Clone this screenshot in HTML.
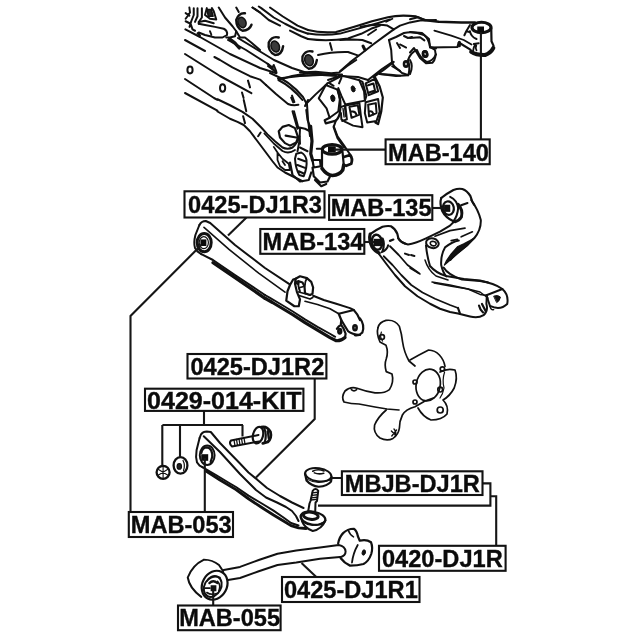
<!DOCTYPE html>
<html><head><meta charset="utf-8">
<style>
html,body{margin:0;padding:0;background:#fff;}
body{width:640px;height:640px;overflow:hidden;position:relative;font-family:"Liberation Sans",sans-serif;}
svg{position:absolute;left:0;top:0;filter:blur(0.45px);}
text{font-family:"Liberation Sans",sans-serif;font-weight:bold;font-size:23.6px;fill:#0a0a0a;stroke:#0a0a0a;stroke-width:0.35px;}
</style></head><body>
<svg width="640" height="640" viewBox="0 0 640 640">
<g id="art" fill="none" stroke="#111" stroke-width="2" stroke-linecap="round" stroke-linejoin="round">
<style>.ns *{vector-effect:non-scaling-stroke}</style>
<!-- ===== Arm 0425-DJ1R2 (real coords) ===== -->
<g>
<path d="M199.6,438 L201,434.4 Q203.2,431.6 206.8,431.6 L210.8,432 L220,443 L230,453.2 L240,463.5 L248.5,472.5 L257,479.4 L267,488 L280,496 L292,502.5 L303.5,508"/>
<path d="M199.6,438 L196.6,450 Q195.4,457 197,462.4 L199.6,465.6 L202.4,467.2"/>
<path d="M202.4,467.2 L216,475 L230,483.5 L236,487 L248.5,495.6 L261,503 L273.5,510.6 L283.5,517.5 L291,523 L298.5,525.5"/>
<path d="M203.75,436.25 L220,452 L230,463 L240,474 L246,480 L256,490 L266,497.5 L277,502.5 L286,507 L292,511 L296,516 L298.5,521"/>
<path d="M206.4,471.2 L220,480 L236,489.6 L248.5,498.75 L261,507 L273.5,515 L283.5,521 L291,525.6 L298.5,527.8 L306,528.5" stroke-width="2.8"/>
<ellipse cx="207.2" cy="455.2" rx="7.4" ry="9.8"/>
<path d="M201.4,453 Q202,447.6 207,447.4 Q212.6,448.4 212.2,457 L210.6,462" stroke-width="2.2"/>
<rect x="201.2" y="454.2" width="7" height="6.6" fill="#0a0a0a" stroke="none"/>
</g>
<!-- ===== ball joint + boot (tile 8x, origin 280,456) ===== -->
<g transform="translate(280,456) scale(0.125)" class="ns">
<ellipse cx="306" cy="150" rx="106" ry="52" transform="rotate(8 306 150)" stroke-width="2"/>
<path d="M200,140 L212,196 Q250,240 310,246 Q380,240 408,205 L414,168" stroke-width="2.2"/>
<path d="M215,185 Q300,235 405,190" stroke-width="1.1"/>
<path d="M262,122 Q300,100 352,120 M275,135 Q310,150 350,138" stroke-width="1.6"/>
<!-- stud -->
<path d="M262,278 Q284,250 306,278 L296,360 L284,372 L282,440 M262,278 L244,360 L236,380 L226,440" stroke-width="2"/>
<path d="M258,295 L303,290 M254,315 L300,310 M250,335 L298,330 M247,352 L296,347" stroke-width="1.3"/>
<!-- housing -->
<ellipse cx="246" cy="478" rx="60" ry="28" transform="rotate(8 246 478)" stroke-width="3"/>
<ellipse cx="264" cy="497" rx="100" ry="52" transform="rotate(10 264 497)" stroke-width="2.2"/>
<path d="M166,478 L176,522 Q200,580 262,600 Q335,585 364,515"/>
<path d="M185,530 Q260,580 350,528" stroke-width="1.2"/>
</g>
<!-- ===== bolt (tile 10x origin 220,420) ===== -->
<g transform="translate(220,420) scale(0.1)" class="ns">
<path d="M110,205 L385,150 M120,265 L392,214 M110,205 Q85,235 120,265" stroke-width="2"/>
<path d="M140,200 L150,258 M165,195 L175,253 M190,190 L200,248 M215,185 L225,243 M240,180 L250,238" stroke-width="1.3"/>
<ellipse cx="380" cy="152" rx="50" ry="84" transform="rotate(14 380 152)" stroke-width="2.2"/>
<path d="M412,72 Q470,58 505,120 Q520,178 478,220 L428,234" stroke-width="2.8"/>
<path d="M442,82 Q472,150 446,226 M478,112 L487,182" stroke-width="2.2"/>
</g>
<!-- ===== nut & washer (real) ===== -->
<g>
<circle cx="163.1" cy="472.3" r="6.5" stroke-width="2.3"/>
<path d="M158.5,469.5 L167.5,475 M163.1,466.5 L163.1,478 M158.5,475 L167.5,469.5" stroke-width="1.1"/>
<ellipse cx="180.5" cy="465.4" rx="6.9" ry="8.3" stroke-width="2.3"/>
<ellipse cx="179.3" cy="466.4" rx="2.2" ry="2.8" fill="#222" stroke-width="1.2"/>
<path d="M183,460.5 Q185.5,465 183.5,470.5" stroke-width="1.2"/>
</g>
<!-- ===== lower link rod (real coords) ===== -->
<g>
<path d="M223.75,570 L240,566.9 L258.75,560 L277.5,553.75 L296.25,550.6 L320,547.5 L338.75,545 Q345,546 345.6,551.5 Q345.6,556 340,557.3"/>
<path d="M228,580 L240,578 L258.75,571.25 L277.5,565 L296.25,562.5 L320,558.75 L340,557"/>
</g>
<!-- left bushing (tile 8x origin 180,540) -->
<g transform="translate(180,540) scale(0.125)" class="ns">
<path d="M345,250 L312,200 Q260,158 192,157 Q100,200 62,300 Q75,385 170,455" stroke-width="2"/>
<ellipse cx="277" cy="362" rx="98" ry="120" transform="rotate(28 277 362)" stroke-width="2.2"/>
<ellipse cx="262" cy="372" rx="66" ry="88" transform="rotate(28 262 372)" stroke-width="2"/>
<path d="M215,330 Q260,280 320,300 M200,385 L240,385 M215,420 Q250,445 300,425 M300,330 Q330,360 310,410" stroke-width="1.6"/>
<path d="M235,345 Q265,315 300,345" stroke-width="2.2"/>
<rect x="245" y="362" width="46" height="48" fill="#111" stroke="none"/>
</g>
<!-- right end fitting (tile 8x origin 310,510) -->
<g transform="translate(310,510) scale(0.125)" class="ns">
<path d="M225,268 Q235,215 265,185 Q300,150 350,150 Q375,165 383,210 L398,246 Q450,232 488,258 Q505,300 490,352 Q470,410 428,432 Q380,445 320,445 Q275,425 246,386" stroke-width="2.2"/>
<path d="M305,160 Q320,200 348,215" stroke-width="1.6"/>
<path d="M382,280 Q345,345 336,420" stroke-width="1.8"/>
<ellipse cx="430" cy="340" rx="13" ry="22" transform="rotate(15 430 340)" fill="#111" stroke-width="1"/>
</g>
<!-- ===== knuckle (tile 5x origin 335,312) ===== -->
<g transform="translate(335,312) scale(0.2)" class="ns" stroke-width="1.7">
<path d="M215,78 Q222,50 255,42 Q300,36 322,72 Q334,110 338,150 Q345,200 370,245 L400,270"/>
<path d="M375,240 L420,215 L468,190 Q500,192 522,215 Q545,240 550,272"/>
<path d="M215,78 Q206,110 225,150 L255,166 Q268,200 256,235 Q246,262 256,298 L285,310 Q296,350 272,388 Q245,408 200,404 Q150,396 110,381 Q75,372 50,395 Q30,425 45,450 Q80,460 120,460 L200,475 L260,485 L320,490"/>
<path d="M256,490 Q215,525 198,565 Q190,605 225,630 Q260,648 290,632 Q318,612 322,580 Q322,545 337,515 Q352,488 400,474 L450,445 L492,430"/>
<ellipse cx="466" cy="365" rx="60" ry="80" transform="rotate(12 466 365)"/>
<path d="M525,300 Q560,280 600,290 Q615,330 596,380 Q575,420 540,440 Q570,470 560,510 Q535,540 480,540 Q440,525 415,480"/>
<path d="M548,300 Q535,340 545,380 Q540,410 525,430" stroke-width="1.2"/>
<circle cx="235" cy="125" r="12"/><path d="M232,100 Q222,125 238,145" stroke-width="1.2"/>
<path d="M82,388 Q95,400 108,388" />
<circle cx="400" cy="350" r="10"/>
<circle cx="537" cy="285" r="11"/>
<circle cx="526" cy="388" r="12"/>
<circle cx="400" cy="450" r="10"/>
<circle cx="526" cy="490" r="15"/>
<path d="M282,595 L305,618 M284,620 L308,590 M295,585 Q310,600 300,622" stroke-width="1.4"/>
</g>
<!-- ===== upper arm (tile A 5x origin 360,180) ===== -->
<g transform="translate(360,180) scale(0.2)" class="ns">
<!-- right bushing MAB-135 -->
<path d="M556,100 Q592,150 604,200 Q606,250 572,290 Q540,325 495,358 Q462,385 452,400"/>
<!-- left bushing MAB-134 -->
<path d="M190,290 Q205,315 240,322 Q275,318 330,292 L400,258 L450,228 L472,206"/>
<!-- left branch lower edges -->
<path d="M225,368 L245,375 M255,375 L272,380" stroke-width="2"/>
<!-- center hole -->
<ellipse cx="362" cy="316" rx="32" ry="24" transform="rotate(15 362 316)" stroke-width="2"/>
<ellipse cx="366" cy="318" rx="15" ry="11" transform="rotate(15 366 318)" stroke-width="1.6"/>
<path d="M330,328 Q335,380 350,430 Q380,465 430,480 L520,495 L600,503 L640,512"/>
<path d="M370,515 L450,530 L540,545 L600,560 L640,590" stroke-width="1.5"/>
<!-- right branch inner -->
<path d="M494,303 Q462,309 425,337 Q403,375 406,425 Q415,465 432,482"/>
<path d="M375,281 L450,253 L525,241 M456,303 L487,297 M506,284 L562,259" stroke-width="1.7"/>
<path d="M569,291 L537,328 L487,369 L444,406 L422,425 L431,406 L456,369 L487,334 L519,319 L550,303 Z" fill="#111" stroke-width="1.2"/>
</g>
<!-- tile B 5x origin 410,220 -->
<g transform="translate(410,220) scale(0.2)" class="ns">
<path d="M168,238 Q190,275 260,298 L350,305 Q420,315 462,345 L382,376"/>
<path d="M462,345 Q495,375 486,420 Q460,445 425,438 L400,430 L382,376"/>
<path d="M420,380 Q440,372 452,385 Q450,405 435,412 Z" fill="#111" stroke-width="1"/>
<path d="M400,432 Q405,452 418,448" stroke-width="1.5"/>
<path d="M240,440 L250,468 M345,428 Q350,450 365,462 M360,420 L378,455" stroke-width="2.2"/>
<path d="M110,310 L200,325 L290,345 L350,372 L384,378" stroke-width="1.5"/>
<path d="M75,200 Q90,250 130,280 L190,300" stroke-width="1.5"/>
<path d="M0,240 L50,270" stroke-width="1.5"/>
</g>
<!-- left branch lower edges, real coords -->
<g>
<path d="M378.75,253.75 L386.25,263.75 L395,275 L405,286.25 L417.5,296.25 L430,303.75 L440,308.75 L450,312 L458,313.5 L470,316.5 Q478,318.6 483.6,315.2 Q488.4,311 486.4,304 L486.8,296" stroke-width="2"/>
<path d="M383.75,256.25 L392.5,265 L401.25,275 L411.25,285 L422.5,292.5 L435,298.75 L450,305 L458,308" stroke-width="1.8"/>
<path d="M390,246.25 L398.75,255 L407.5,265 L418.75,273" stroke-width="1.8"/>
</g>
<!-- MAB-135 bushing detail (tile 10.667x origin 430,180) -->
<g transform="translate(430,180) scale(0.09375)" class="ns">
<path d="M120,192 Q170,148 250,106 Q300,88 345,96 Q395,112 430,170 L452,232 L470,262" stroke-width="2.2"/>
<path d="M120,192 Q100,250 130,330 Q165,400 250,440" stroke-width="2.2"/>
<ellipse cx="196" cy="300" rx="58" ry="72" transform="rotate(-12 196 300)" stroke-width="2.2"/>
<path d="M215,180 Q290,215 300,300 Q295,380 250,440" stroke-width="2"/>
<path d="M300,260 Q355,320 335,395 Q310,435 268,445" stroke-width="3"/>
<path d="M332,270 L400,246" stroke-width="2"/>
<rect x="150" y="264" width="66" height="76" fill="#111" stroke="none"/>
</g>
<!-- MAB-134 bushing detail (tile 10.667x origin 360,215) -->
<g transform="translate(360,215) scale(0.09375)" class="ns">
<path d="M108,204 Q160,165 240,126 Q290,112 330,120 Q375,145 398,200 L410,250 Q430,285 480,305" stroke-width="2.2"/>
<path d="M108,204 Q92,260 128,340 Q160,390 205,405" stroke-width="3.2"/>
<ellipse cx="182" cy="290" rx="55" ry="80" transform="rotate(-10 182 290)" stroke-width="2.4"/>
<path d="M242,250 Q270,310 240,382" stroke-width="2"/>
<path d="M320,276 L356,262" stroke-width="2.2"/>
<path d="M300,322 Q290,370 232,396" stroke-width="2"/>
<rect x="145" y="254" width="80" height="78" fill="#111" stroke="none"/>
</g>
<!-- ===== lateral arm 0425-DJ1R3 (tile 5x origin 185,215) ===== -->
<g transform="translate(185,215) scale(0.2)" class="ns">
<path d="M72,50 Q82,30 104,30 L126,40 L250,150 L400,265 L522,346"/>
<path d="M72,50 L52,100 Q42,140 50,165 L62,182 L82,196"/>
<path d="M95,62 L220,172 L370,292 L500,386" stroke-width="1.6"/>
<path d="M82,196 L140,225 L250,300 L400,400"/>
<path d="M140,238 L250,313 L400,417" stroke-width="3.2"/>
<ellipse cx="96" cy="138" rx="35" ry="46" stroke-width="3"/>
<ellipse cx="94" cy="138" rx="23" ry="30" stroke-width="1.2"/>
<rect x="77" y="122" width="30" height="33" fill="#0a0a0a" stroke="none"/>
</g>
<!-- tile 8x origin 280,270 -->
<g transform="translate(280,270) scale(0.125)" class="ns">
<path d="M265,206 L350,240 L450,270 L560,305 L590,320" stroke-width="2"/>
<path d="M200,250 L300,276 L400,310 L470,350" stroke-width="1.7"/>
<path d="M150,176 L240,200 M146,202 L240,232 L262,220" stroke-width="1.8"/>
<!-- lower edges -->
<path d="M-120,200 L-80,223 L0,270 L100,330 L200,395 L300,455 L400,510 L442,535" stroke-width="1.8"/>
<path d="M-120,226 L-60,260 L0,296 L100,356 L200,421 L300,481 L400,541 L450,566 Q490,568 520,540" stroke-width="3.2"/>
<!-- bracket -->
<path d="M125,70 L160,50 L215,65 L250,95 L265,140 L260,190 L240,200 L200,186 L196,130 L180,100 L150,90" fill="#fff" stroke-width="2.2"/>
<path d="M80,120 L105,76 L125,70 L120,110 L135,175 L160,235 L150,290 L115,290 L50,245 L60,170 Z" fill="#fff" stroke-width="2.2"/>
<ellipse cx="140" cy="100" rx="9" ry="13" fill="#222" stroke-width="1.5"/>
<path d="M150,90 Q140,130 160,170 M196,130 L160,140 M215,66 Q200,90 200,120" stroke-width="1.8"/>
<!-- fork -->
<path d="M470,350 L590,320 Q620,350 640,400 M470,350 L490,400 L520,450 L545,490 Q575,515 640,520" stroke-width="2.2"/>
<ellipse cx="600" cy="462" rx="13" ry="19" stroke-width="2.6"/>
<path d="M455,470 Q468,448 490,440 Q512,465 525,510 L520,540 M490,400 L486,440" stroke-width="2.2"/>
<ellipse cx="478" cy="490" rx="11" ry="17" stroke-width="2.6"/>
</g>
<!-- fork right part (tile 5x origin 270,260) -->
<g transform="translate(270,260) scale(0.2)" class="ns">
<path d="M450,292 Q475,325 462,362 Q445,380 424,376" stroke-width="2.2"/>
</g>
<!-- ===== subframe T1 (tile 5x origin 180,0) ===== -->
<g transform="translate(180,0) scale(0.2)" class="ns">
<!-- top-left cluster -->
<!-- long diagonals -->
<path d="M25,200 L125,255"/>
<path d="M25,270 L200,380 L357,466"/>
<path d="M172,285 L200,300 L262,337 L312,362 L350,381 L400,398 L430,425 M340,403 L350,437"/>
<path d="M27,147 L100,185 L250,270 L400,340 L482,366"/>
<path d="M240,200 L330,250 L440,320 L482,362 L440,330" />
<path d="M290,190 L380,245 L470,300 L560,340 L640,366"/>
<path d="M25,395 L170,490 L187,499"/>
<path d="M25,465 L187,553"/>
<path d="M310,462 L318,490" stroke-width="2"/>
<ellipse cx="50" cy="350" rx="13" ry="17" stroke-width="2"/>
<ellipse cx="213" cy="440" rx="13" ry="19" stroke-width="2"/>
<!-- bolts -->
<g stroke-width="2">
</g>
<!-- top right lines -->
<!-- right middle -->
<path d="M492,400 L560,380 L640,366 M430,425 L480,470 L540,520 Q565,530 592,524 M492,400 Q560,435 612,500 M556,488 L566,512 M570,556 L592,640 M625,530 L640,500"/>
</g>
<!-- T1 top-left cluster (tile 8x origin 180,0) -->
<g transform="translate(180,0) scale(0.125)" class="ns">
<path d="M75,60 L80,100 L60,130 L45,150 M110,65 L110,120 L90,170 L76,215 M45,105 L75,125 M45,170 L85,190 L100,235 L120,246 M140,65 L140,130 L120,175 M175,65 L175,140 L150,176 L150,190"/>
<path d="M215,65 L200,120 L240,150 L290,156 L270,90 L255,65" stroke-width="2"/>
<path d="M218,76 L250,76 L265,130 L225,130 Z" fill="#222" stroke-width="1.5"/>
<path d="M150,190 L200,200 L280,215 L350,230 Q382,245 376,280 L340,300 L280,300 L200,280 L150,260 L140,266 L160,286 M240,250 L250,276 M150,176 L200,166 L270,186"/>
<path d="M310,60 L360,140 L420,210 L450,250 L440,290 L400,300 L370,300 M450,60 L470,96 M580,60 L640,100"/>
<path d="M520,106 Q470,100 450,160 Q450,225 500,246 Q555,245 572,198" stroke-width="2.4"/>
<ellipse cx="496" cy="180" rx="32" ry="42" transform="rotate(-20 496 180)" fill="#3a3a3a" stroke-width="1.5"/>
<path d="M450,250 L480,300 L520,300 L570,340 L640,400"/>
<path d="M396,310 L440,345 L474,384" stroke-width="3.2"/>
</g>
<!-- T1b (tile 8x origin 260,0) -->
<g transform="translate(260,0) scale(0.125)" class="ns">
<path d="M-60,60 L0,100 L70,160 L160,205"/>
<path d="M-10,52 L10,65 L110,140 L200,190 L300,240 L384,270"/>
<path d="M80,60 L180,130 L300,205 L384,240"/>
<path d="M240,245 L330,290 L384,312"/>
<path d="M150,300 Q95,285 70,340 Q60,410 120,440 Q175,440 185,370" stroke-width="2.4"/>
<ellipse cx="122" cy="372" rx="33" ry="45" transform="rotate(-20 122 372)" fill="#3a3a3a" stroke-width="1.5"/>
<path d="M420,412 Q365,398 340,452 Q330,520 390,550 Q445,548 455,480" stroke-width="2.4"/>
<ellipse cx="392" cy="482" rx="33" ry="45" transform="rotate(-20 392 482)" fill="#3a3a3a" stroke-width="1.5"/>
<path d="M560,345 L575,400" stroke-width="2"/>
<path d="M60,510 L100,540 L110,520 L130,570" stroke-width="2"/>
</g>
<!-- ===== subframe T2 (tile 5x origin 308,0) ===== -->
<g transform="translate(308,0) scale(0.2)" class="ns">
<path d="M0,150 Q60,166 140,160 Q220,138 320,106 L400,86 Q460,72 540,82 L585,100" stroke-width="2.2"/>
<path d="M0,168 Q80,180 160,168 Q240,146 347,116 L410,97" />
<path d="M263,134 Q347,118 397,128 L429,147 L460,128 L510,112 L560,103 L640,100"/>
<path d="M0,195 Q100,208 200,192 L266,169 L322,141 L360,128 M160,200 L222,197 L272,200 L316,216"/>
<path d="M50,275 Q120,258 200,260 L252,278"/>
<path d="M300,175 L341,147 M391,109 L422,94 M460,222 L491,238" stroke-width="1.8"/>
<path d="M275,230 L285,250" stroke-width="3"/>
<path d="M160,356 L210,312 L266,269 L322,225 L372,188 L429,147"/>
<path d="M300,400 L370,345 L420,312 L416,250 L405,200"/>
<path d="M0,365 L100,372 L170,372 M100,400 L160,380 L250,385 L300,400"/>
<!-- right bracket -->
<path d="M405,200 L440,185 L480,165 Q530,155 580,175 Q605,195 610,235 L640,242"/>
<path d="M430,330 L470,365 L502,376 Q512,340 500,300 Q515,260 545,250 Q560,290 595,310 Q625,305 640,272"/>
<path d="M420,312 L430,330 M360,370 L440,380 L500,376"/>
<ellipse cx="490" cy="320" rx="10" ry="13" stroke-width="2.6"/>
<ellipse cx="585" cy="270" rx="10" ry="13" stroke-width="2.6"/>
<path d="M480,180 L500,190 L520,185 M445,215 L460,240" stroke-width="2"/>
</g>
<!-- ===== subframe T3 (tile 5x origin 410,0) ===== -->
<g transform="translate(410,0) scale(0.2)" class="ns">
<path d="M0,96 L40,86 L70,100" stroke-width="2"/>
<path d="M0,160 L60,165 L95,195 L100,235 L125,250 Q135,290 112,314 L80,316 L50,290 L20,240 L0,262"/>
<path d="M0,190 L50,186 L72,202 M0,300 Q18,330 0,370"/>
<ellipse cx="76" cy="270" rx="10" ry="14" transform="rotate(-20 76 270)" stroke-width="2.4"/>
</g>
<!-- T3 bushing (tile 8x origin 420,0) -->
<g transform="translate(420,0) scale(0.125)" class="ns">
<path d="M30,160 L150,174 L330,180 L440,180" stroke-width="2.4"/>
<ellipse cx="492" cy="220" rx="76" ry="42" stroke-width="3.2"/>
<path d="M570,228 L572,330 L588,365 L582,398" stroke-width="2.2"/>
<path d="M410,415 Q450,442 520,440 Q565,425 586,385" stroke-width="4.2"/>
<path d="M400,200 L370,250 L355,282 M370,250 L396,256 M400,250 Q405,292 452,312" stroke-width="2"/>
<path d="M115,245 L250,285 L350,320 L412,356" stroke-width="1.8"/>
<path d="M80,380 L300,376 L310,340 L400,395 L426,426" stroke-width="2.2"/>
<path d="M315,338 L315,366" stroke-width="3"/>
<path d="M430,352 L470,346 M426,426 Q422,380 446,352 M450,365 Q440,385 452,402" stroke-width="1.8"/>
<rect x="458" y="212" width="54" height="50" fill="#0a0a0a" stroke="none"/>
</g>
<!-- ===== subframe T4 (tile 5x origin 230,70) ===== -->
<g transform="translate(230,70) scale(0.2)" class="ns">
<path d="M240,42 L350,30 L450,25 L520,20"/>
<path d="M200,15 Q300,55 365,135 L385,172 Q388,250 400,330"/>
<path d="M310,128 L322,160" stroke-width="2"/>
</g>
<!-- tile P 8x origin 230,100 -->
<g transform="translate(230,100) scale(0.125)" class="ns">
<path d="M-100,-6 L0,42 L100,95 L180,150 L250,220 L300,275 L360,330 L420,380 Q460,400 500,380 Q540,345 555,290"/>
<path d="M275,268 L350,348 L420,408 Q470,435 520,400" stroke-width="1.8"/>
<path d="M-100,92 L0,150 L60,175 L110,200 L160,250 L220,330 L280,410 L340,490 L380,540 L440,580 L520,620 L580,650"/>
<path d="M110,0 L130,90 M105,130 L120,185 M245,260 L225,290" stroke-width="2"/>
<path d="M390,250 L420,215 L470,200 L520,225 L545,300 L530,340 L480,365 L440,345 L400,300 Z M445,285 L530,300" stroke-width="2.2"/>
<path d="M500,90 L520,160 L540,230 M555,290 L560,350 M560,380 L620,410"/>
<path d="M350,375 L380,420 L380,480 L400,530 M380,420 L420,470 L470,510 L480,560 M400,530 L440,560 L480,560 M420,490 L440,520" stroke-width="1.8"/>
<path d="M530,430 L570,420 Q605,440 612,480 Q618,540 590,610 L555,600 Q525,550 520,470 Z M545,470 L600,490 M540,520 L605,545 M550,570 L595,590" stroke-width="2"/>
</g>
<!-- tile Q 8x origin 290,110 -->
<g transform="translate(290,110) scale(0.125)" class="ns">
<path d="M165,130 L176,250 L166,350 L180,400" stroke-width="3.2"/>
<path d="M130,0 L140,80 L160,130 M75,140 L120,150 L160,170 M80,150 L75,250 L60,330"/>
<path d="M350,130 L380,210 L430,280 L470,340 L490,370"/>
<!-- bushing -->
<ellipse cx="337" cy="315" rx="78" ry="38" stroke-width="3.2"/>
<path d="M256,330 L256,460 L282,500 M420,332 L430,440" stroke-width="2.2"/>
<path d="M256,468 Q295,522 340,524 Q395,520 422,480 L430,440" stroke-width="3.6"/>
<path d="M430,376 L480,360 Q505,388 490,430 L450,446 L430,440" stroke-width="2.8"/>
<path d="M180,400 L240,400 L246,450 L190,460 Z M215,310 L252,310" stroke-width="2.2"/>
<path d="M180,460 L190,530 L240,580 L300,572 L320,532 M200,560 L250,610 L290,592" stroke-width="2.2"/>
<path d="M0,420 L20,520 L80,572 L150,560 L170,500" stroke-width="2.2"/>
<rect x="304" y="290" width="62" height="50" fill="#0a0a0a" stroke="none"/>
</g>
<!-- ===== subframe T5 (tile 6.4x origin 300,60) ===== -->
<g transform="translate(300,60) scale(0.15625)" class="ns">
<path d="M0,80 L100,75 L200,85 L250,80 L300,40 L360,0" stroke-width="2"/>
<path d="M0,100 L120,95 L232,102"/>
<path d="M470,110 L540,60 L600,12 M510,90 L580,95 L640,100 M590,40 L640,70"/>
<!-- left plate -->
<path d="M165,160 L240,190 L255,250 L245,330 L190,370 L170,310 L120,245 Z"/>
<path d="M240,190 Q268,260 255,340 Q245,380 225,390 L165,406 L158,386 L190,370" stroke-width="2.2"/>
<ellipse cx="210" cy="245" rx="13" ry="22" transform="rotate(-10 210 245)" fill="#111" stroke-width="1"/>
<path d="M40,280 L100,220 L165,160 L175,150"/>
<!-- center plate -->
<path d="M175,150 L270,100 L380,130 L410,200 L415,260 L290,285 L265,230 L245,180" stroke-width="2"/>
<ellipse cx="340" cy="185" rx="12" ry="20" transform="rotate(-15 340 185)" fill="#111" stroke-width="1"/>
<path d="M265,115 L250,150 M190,150 L215,165" stroke-width="2"/>
<path d="M380,130 L400,140 L425,230 L415,260" />
<!-- right boxes -->
<path d="M420,150 L480,120 L500,200 L440,225 Z M436,162 L470,150 L480,195 L446,206" />
<path d="M480,110 L510,170 L530,240 L520,330 L500,410 L482,400" stroke-width="2.2"/>
<path d="M420,270 L500,250 L510,330 L490,390 L430,400 L415,340 Z M436,286 L485,276 L490,340 L442,360 Z M440,330 Q465,320 470,350" />
<!-- lower centre -->
<path d="M265,300 L290,290 L300,380 L270,390 M300,290 L380,275 L390,360 L400,430 L340,420 L290,396 L265,380 L262,340"/>
<path d="M316,300 L370,290 L380,350 L330,370 Z M330,330 Q355,325 362,352" />
<path d="M275,310 L282,365 M286,305 L292,360" stroke-width="1.4"/>
<!-- left edges -->
<path d="M230,386 L215,430 L240,500 L282,560"/>
</g>

</g>
<g id="leaders" fill="none" stroke="#161616" stroke-width="2.1">
<!-- MAB-140 -->
<path d="M480.9,32 V139.4"/>
<path d="M334,149.6 H385.6"/>
<!-- 0425-DJ1R3 -->
<path d="M246.5,217.5 L228,235.5"/>
<!-- MAB-135 / 134 -->
<path d="M432.3,208 H445"/>
<path d="M364.3,242 H374"/>
<!-- long line from arm bushing to MAB-053 -->
<path d="M201.5,244.8 L130.5,316 V512"/>
<!-- 0425-DJ1R2 -->
<path d="M314.7,378.1 V419 L256,477.5"/>
<!-- KIT -->
<path d="M204,410.9 V425 M162.4,425 H243 M162.3,425 V466 M180,425 V457.5 M242.5,425 V436.5"/>
<!-- MAB-053 -->
<path d="M204.8,458 V512"/>
<!-- MBJB -->
<path d="M332,478 H341.9 M482.5,483.4 H490.4 V505.6 H318 M490.4,496.2 H496.2 V545.3"/>
<!-- 0425-DJ1R1 -->
<path d="M316.3,577 L301.5,563"/>
<!-- MAB-055 -->
<path d="M213.2,590 V605.5"/>

</g>
<g id="labels" opacity="0.995">
<rect x="385.6" y="139.4" width="104.1" height="24.8" fill="#fff" stroke="#111" stroke-width="2.1"/>
<text x="438.50" y="160.7" text-anchor="middle">MAB-140</text>
<rect x="184.5" y="191.3" width="140.0" height="26.2" fill="#fff" stroke="#111" stroke-width="2.1"/>
<text x="255.00" y="213.0" text-anchor="middle">0425-DJ1R3</text>
<rect x="329.1" y="195.2" width="103.2" height="24.7" fill="#fff" stroke="#111" stroke-width="2.1"/>
<text x="381.15" y="216.3" text-anchor="middle">MAB-135</text>
<rect x="260.3" y="229.0" width="104.0" height="24.8" fill="#fff" stroke="#111" stroke-width="2.1"/>
<text x="313.00" y="250.0" text-anchor="middle">MAB-134</text>
<rect x="187.5" y="354.0" width="138.9" height="24.5" fill="#fff" stroke="#111" stroke-width="2.1"/>
<text x="257.38" y="375.0" text-anchor="middle">0425-DJ1R2</text>
<rect x="145.0" y="388.7" width="158.4" height="22.2" fill="#fff" stroke="#111" stroke-width="2.1"/>
<text x="224.30" y="409.2" text-anchor="middle" transform="translate(224.30,0) scale(1.062,1) translate(-224.30,0)">0429-014-KIT</text>
<rect x="341.9" y="471.3" width="140.6" height="23.7" fill="#fff" stroke="#111" stroke-width="2.1"/>
<text x="412.30" y="492.0" text-anchor="middle">MBJB-DJ1R</text>
<rect x="128.8" y="512.0" width="104.2" height="25.0" fill="#fff" stroke="#111" stroke-width="2.1"/>
<text x="181.25" y="533.0" text-anchor="middle">MAB-053</text>
<rect x="379.0" y="545.8" width="126.6" height="25.0" fill="#fff" stroke="#111" stroke-width="2.1"/>
<text x="442.35" y="566.9" text-anchor="middle">0420-DJ1R</text>
<rect x="282.0" y="577.0" width="137.5" height="25.0" fill="#fff" stroke="#111" stroke-width="2.1"/>
<text x="350.88" y="598.0" text-anchor="middle">0425-DJ1R1</text>
<rect x="178.0" y="605.5" width="102.6" height="24.7" fill="#fff" stroke="#111" stroke-width="2.1"/>
<text x="229.62" y="626.3" text-anchor="middle">MAB-055</text>
</g>
</svg>
</body></html>
